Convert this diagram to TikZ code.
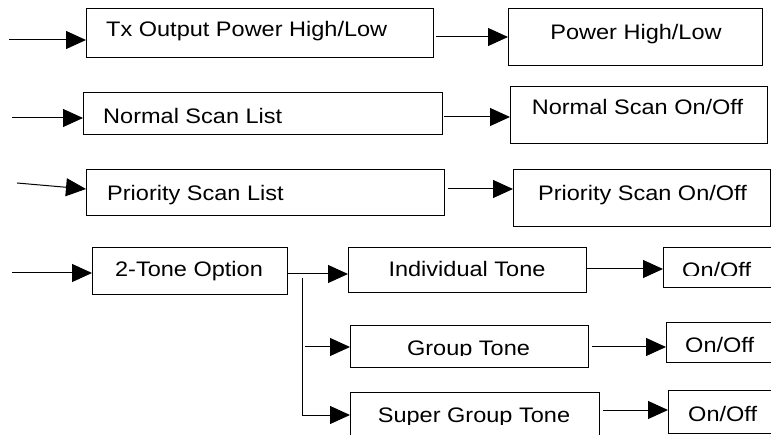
\documentclass[tikz,border=0pt]{standalone}
\usepackage{fontspec}
\setmainfont{Liberation Sans}[FakeStretch=1.12]
\usetikzlibrary{arrows.meta}
\begin{document}
\begin{tikzpicture}[x=1pt,y=-1pt,
  box/.style={draw=black,line width=1pt,anchor=north west,inner sep=0pt},
  txt/.style={inner sep=0pt,font=\fontsize{21}{25}\selectfont},
  arr/.style={line width=1pt,-{Triangle[length=20pt,width=18pt]}},
  ln/.style={line width=1pt}]
\useasboundingbox (0,0) rectangle (771,435);
\clip (0,0) rectangle (771,435);
% boxes
\node[box,minimum width=347pt,minimum height=49pt] (tx) at (86,8) {};
\node[box,minimum width=254pt,minimum height=57pt] (pw) at (508,8) {};
\node[box,minimum width=359pt,minimum height=42pt] (ns) at (83,92) {};
\node[box,minimum width=257pt,minimum height=57pt] (nso) at (510,86) {};
\node[box,minimum width=358pt,minimum height=46pt] (ps) at (86,169) {};
\node[box,minimum width=257pt,minimum height=57pt] (pso) at (513,169) {};
\node[box,minimum width=195pt,minimum height=47pt] (to) at (92,247) {};
\node[box,minimum width=238pt,minimum height=45pt] (it) at (348,247) {};
\node[box,minimum width=120pt,minimum height=40pt] (io) at (663,247) {};
\node[box,minimum width=238pt,minimum height=42pt] (gt) at (350,325) {};
\node[box,minimum width=120pt,minimum height=40pt] (go) at (666,322) {};
\node[box,minimum width=249pt,minimum height=55pt] (sg) at (350,392) {};
\node[box,minimum width=120pt,minimum height=43pt] (so) at (668,390) {};
% texts
\node[txt,anchor=base west] (txT) at (106,37) {Tx Output Power High/Low};
\node[txt,anchor=base] (pwT) at (636,40) {Power High/Low};
\node[txt,anchor=base west] (nsT) at (103,124) {Normal Scan List};
\node[txt,anchor=base] (nsoT) at (637.5,115) {Normal Scan On/Off};
\node[txt,anchor=base west] (psT) at (107,201) {Priority Scan List};
\node[txt,anchor=base] (psoT) at (642.5,201) {Priority Scan On/Off};
\node[txt,anchor=base] (toT) at (189,277) {2-Tone Option};
\node[txt,anchor=base] (itT) at (467,277) {Individual Tone};
\begin{scope}
\clip (0,0) rectangle (771,276);
\node[txt,anchor=base west] (ioT) at (682,278) {On/Off};
\end{scope}
\begin{scope}
\clip (0,0) rectangle (771,356);
\node[txt,anchor=base] (gtT) at (468.5,356) {Group Tone};
\end{scope}
\begin{scope}
\clip (0,0) rectangle (771,352);
\node[txt,anchor=base west] (goT) at (685,353) {On/Off};
\end{scope}
\begin{scope}
\clip (0,0) rectangle (771,424);
\node[txt,anchor=base] (sgT) at (474,422) {Super Group Tone};
\end{scope}
\node[txt,anchor=base west] (soT) at (688,421) {On/Off};
% coordinates
\coordinate (s1) at (9,40);
\coordinate (r1) at (0,37);
\coordinate (s2) at (12,118);
\coordinate (r2) at (0,117);
\coordinate (s3) at (17,183);
\coordinate (e3) at (0,189);
\coordinate (s4) at (12,273);
\coordinate (r4) at (0,274);
\coordinate (v1) at (302,278);
\coordinate (v2) at (302,415);
\coordinate (g1) at (305,347);
\coordinate (ri) at (0,269);
\coordinate (rs) at (0,410);
% connectors
\draw[arr] (s1) -- (s1 -| tx.west);
\draw[arr] ([xshift=2pt]tx.east |- r1) -- (pw.west |- r1);
\draw[arr] (s2) -- (s2 -| ns.west);
\draw[arr] ([xshift=1pt]ns.east |- r2) -- (nso.west |- r2);
\draw[arr] (s3) -- (ps.west |- e3);
\draw[arr] ([xshift=3pt]ps.east |- e3) -- (pso.west |- e3);
\draw[arr] (s4) -- (s4 -| to.west);
\draw[arr] (to.east |- r4) -- (it.west |- r4);
\draw[ln] (v1) -- (v2);
\draw[arr] (g1) -- (g1 -| gt.west);
\draw[arr] (v2) -- (v2 -| sg.west);
\draw[arr] (it.east |- ri) -- (io.west |- ri);
\draw[arr] ([xshift=3pt]gt.east |- g1) -- (go.west |- g1);
\draw[arr] ([xshift=3pt]sg.east |- rs) -- (so.west |- rs);
\end{tikzpicture}
\end{document}
